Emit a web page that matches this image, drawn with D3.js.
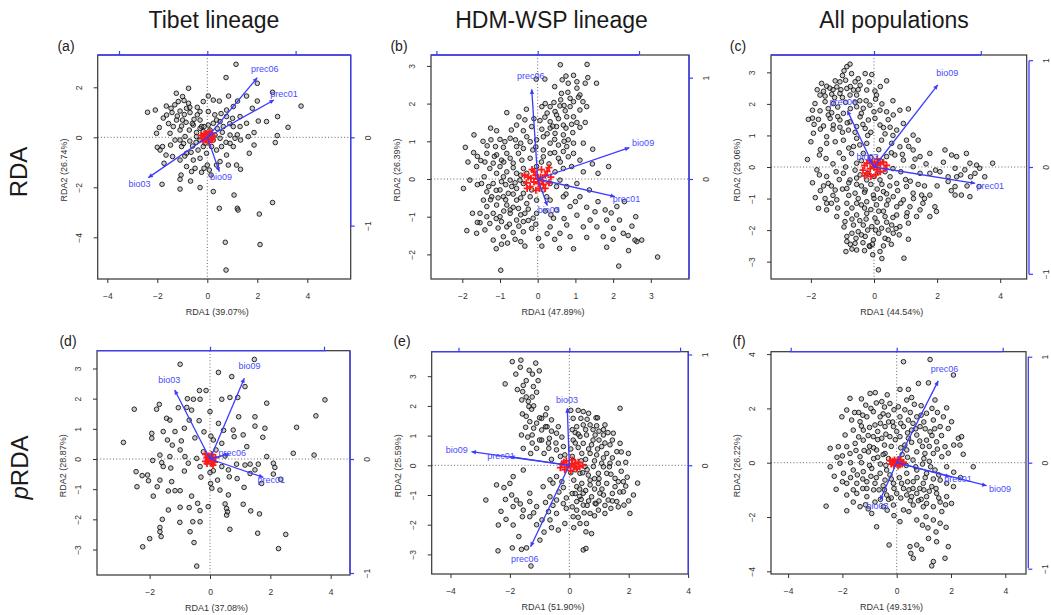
<!DOCTYPE html>
<html><head><meta charset="utf-8">
<script src="https://cdn.jsdelivr.net/npm/d3@7"></script>
<style>body{margin:0;background:#fff}svg{display:block}text{font-family:"Liberation Sans",Arial,Helvetica,sans-serif}</style>
</head><body><svg id="chart" width="1051" height="615"></svg>
<script>
// ---------- DATA ----------
const columnTitles = ["Tibet lineage", "HDM-WSP lineage", "All populations"];
const panelLetters = ["(a)", "(b)", "(c)", "(d)", "(e)", "(f)"];
const xTitles = ["RDA1 (39.07%)", "RDA1 (47.89%)", "RDA1 (44.54%)", "RDA1 (37.08%)", "RDA1 (51.90%)", "RDA1 (49.31%)"];
const yTitles = ["RDA2 (26.74%)", "RDA2 (26.39%)", "RDA2 (29.06%)", "RDA2 (28.87%)", "RDA2 (25.59%)", "RDA2 (26.22%)"];

const xTicksA = [-4,-2,0,2,4], yTicksA = [-4,-2,0,2], topTicksA = [-1,0,1], rightTicksA = [-1,0];
const xTicksB = [-2,-1,0,1,2,3], yTicksB = [-2,-1,0,1,2,3], topTicksB = [-1,0,1], rightTicksB = [0,1];
const xTicksC = [-2,0,2,4], yTicksC = [-3,-2,-1,0,1,2,3], topTicksC = [0,1], rightTicksC = [-1,0,1];
const xTicksD = [-2,0,2,4], yTicksD = [-3,-2,-1,0,1,2,3], topTicksD = [0,1], rightTicksD = [-1,0];
const xTicksE = [-4,-2,0,2,4], yTicksE = [-3,-2,-1,0,1,2,3], topTicksE = [-1,0,1], rightTicksE = [0,1];
const xTicksF = [-4,-2,0,2,4], yTicksF = [-4,-2,0,2,4], topTicksF = [-1,0,1], rightTicksF = [-1,0,1];

// environmental arrows (biplot scores)
const envA = [{name:"prec06",x:0.566,y:0.675},{name:"prec01",x:0.755,y:0.423},{name:"bio03",x:-0.668,y:-0.457},{name:"bio09",x:0.136,y:-0.389}];
const envB = [{name:"prec06",x:-0.059,y:0.885},{name:"bio09",x:0.905,y:0.309},{name:"prec01",x:0.763,y:-0.174},{name:"bio03",x:0.095,y:-0.263}];
const envC = [{name:"bio09",x:0.597,y:0.769},{name:"prec06",x:-0.25,y:0.528},{name:"bio03",x:-0.053,y:0.081},{name:"prec01",x:0.947,y:-0.153}];
const envD = [{name:"bio03",x:-0.31,y:0.605},{name:"bio09",x:0.301,y:0.708},{name:"prec06",x:0.17,y:0.044},{name:"prec01",x:0.468,y:-0.161}];
const envE = [{name:"bio03",x:-0.018,y:0.515},{name:"bio09",x:-0.883,y:0.123},{name:"prec01",x:-0.536,y:0.078},{name:"prec06",x:-0.349,y:-0.735}];
const envF = [{name:"prec06",x:0.392,y:0.772},{name:"prec01",x:0.502,y:-0.132},{name:"bio09",x:0.848,y:-0.217},{name:"bio03",x:-0.157,y:-0.352}];

// species scores (red, near origin)
const spA = [[0,0],[0.15,0.1],[-0.1,0.05],[0.2,-0.1],[-0.2,-0.05],[0.05,-0.2],[0.1,0.2],[-0.05,0.15],[0.25,0.05],[-0.15,-0.15],[0.05,0.05],[0.12,-0.05],[-0.08,-0.08],[0.08,-0.12],[-0.12,0.12],[0.18,0.15],[-0.25,0.08],[0.02,0.1]];
const spB = [[0,0],[0.2,0.1],[-0.25,0.05],[0.3,-0.1],[-0.3,-0.1],[0.05,-0.25],[0.1,0.25],[-0.1,0.2],[0.35,0.05],[-0.2,-0.2],[0.15,-0.15],[-0.05,0.1],[0.25,0.2],[-0.35,0.1],[0.2,-0.25],[-0.15,0.25],[0.08,0.05],[-0.1,-0.08],[0.12,-0.05],[-0.18,0.02],[0.02,-0.12],[-0.05,-0.3],[0.3,0.3],[-0.28,-0.25]];
const spC = [[0,0],[0.2,0.1],[-0.3,0.05],[0.35,-0.05],[-0.35,-0.1],[0.05,-0.25],[0.1,0.25],[-0.15,0.2],[0.4,0.05],[-0.2,-0.2],[0.2,-0.15],[-0.05,0.1],[0.3,0.15],[-0.1,-0.3],[0.08,-0.08],[-0.12,-0.05],[0.12,0.05],[-0.22,0.12],[0.02,0.15],[-0.3,-0.28]];
const spD = [[0,0],[0.1,0.05],[-0.1,0.05],[0.15,-0.1],[-0.15,-0.08],[0.05,-0.15],[0.05,0.15],[-0.05,0.1],[0.18,0.05],[-0.1,-0.15],[0.05,-0.05],[-0.05,-0.05],[0.1,-0.2],[-0.15,0.15]];
const spE = [[0,0],[0.2,0.05],[-0.25,0.05],[0.35,-0.05],[-0.3,-0.08],[0.05,-0.18],[0.1,0.18],[-0.1,0.15],[0.45,0.0],[-0.15,-0.15],[0.25,-0.12],[0.08,0.05],[-0.08,-0.05],[0.15,-0.05],[-0.18,0.1],[0.3,0.1]];
const spF = [[0,0],[0.1,0.05],[-0.15,0.05],[0.2,-0.05],[-0.2,-0.05],[0.05,-0.12],[0.05,0.12],[-0.08,0.1],[0.25,0.02],[-0.1,-0.1],[0.12,-0.08],[-0.05,0.02],[0.15,0.1],[-0.25,0.08]];

// site scores
const ptsA = [[1.15,2.92],[0.75,2.39],[2.0,2.16],[-0.75,1.96],[-1.24,1.76],[-0.99,1.63],[-0.93,1.47],[-0.75,1.36],[0.04,1.65],[0.24,1.49],[0.48,1.45],[0.85,1.65],[1.21,1.45],[1.57,1.65],[2.0,1.45],[2.61,1.8],[3.75,1.25],[-2.39,1.0],[-2.08,1.09],[-1.64,1.25],[-1.45,1.16],[-1.76,0.77],[-1.41,0.99],[-1.09,1.05],[-0.92,0.91],[-0.69,0.99],[-0.53,0.72],[-0.99,0.69],[-1.23,0.69],[-1.36,0.43],[-1.03,0.45],[-1.92,0.39],[-2.03,0.16],[-1.49,0.16],[-1.09,0.29],[-0.72,0.29],[-0.29,0.69],[-0.23,0.43],[-0.16,0.23],[-0.43,0.19],[0.04,1.03],[0.24,0.56],[0.51,0.63],[0.77,0.83],[1.01,0.76],[0.64,0.43],[1.04,0.43],[1.31,0.43],[1.57,0.56],[1.8,1.16],[2.04,0.65],[2.37,0.63],[2.81,0.83],[3.23,0.4],[2.8,0.07],[2.72,-0.21],[1.87,0.19],[1.87,-0.31],[1.68,-0.64],[1.33,-0.11],[1.11,-0.04],[0.91,0.09],[0.51,-0.04],[0.57,-0.37],[1.04,-0.37],[0.77,-0.71],[1.17,-1.11],[1.33,-1.28],[0.84,-1.11],[0.51,-0.97],[-2.0,-0.4],[-1.89,-0.51],[-1.73,-1.04],[-1.39,-0.77],[-1.47,-0.31],[-1.09,-0.11],[-1.03,-0.37],[-0.83,-0.64],[-0.59,-0.35],[-0.37,-0.51],[-0.29,-0.84],[-0.56,-0.91],[-0.83,-1.17],[-1.05,-1.51],[-1.09,-1.68],[-0.67,-1.75],[-0.49,-1.24],[-0.23,-1.4],[0,-1.11],[0.08,-1.31],[0.15,-1.51],[-0.29,-2.01],[-1.09,-2.07],[-1.81,-1.88],[0.24,-2.17],[1.07,-2.31],[0.48,-2.84],[1.2,-2.84],[1.23,-2.91],[2.61,-2.61],[2.08,-3.07],[0.72,-4.2],[2.11,-4.29],[0.75,-5.31],[-0.29,0.36],[-0.13,0.43],[0.11,0.29],[0.31,0.09],[0.24,-0.11],[-0.09,-0.24],[-0.29,-0.11],[-0.43,0.03],[0.17,-0.37],[0.37,-0.51],[-0.03,-0.64],[-0.16,-0.37],[-1.63,0.89],[-0.83,1.16],[-0.56,0.49],[-0.89,0.03],[-1.29,-0.11],[-1.65,-0.71],[-1.09,-0.91],[1.04,1.23],[0.77,1.09],[1.31,0.83],[1.64,0.03],[0.91,-0.24],[0.04,0.49],[0.37,0.69],[-0.29,1.03],[-0.16,1.43],[-1.16,1.43],[-1.79,-0.37],[-0.63,-1.37],[-0.13,-1.24],[0.37,-1.11],[-0.6,0.55],[-0.85,0.6],[-1.2,0.85],[-0.4,0.9],[-0.7,1.2],[-1.55,0.55],[-0.95,-0.25],[-0.7,-0.15],[-0.45,-0.2],[-0.65,-0.6],[-0.9,-0.75],[0.3,0.9],[0.55,0.95],[0.9,0.55],[0.4,0.35],[0.6,0.2],[-1.3,1.3],[-0.4,1.2],[1.2,0.1],[0.75,-0.2]];

const ptsB = [[0.6,3.03],[1.31,3.04],[-0.04,2.65],[0.19,2.65],[0.75,2.73],[0.65,2.63],[0.81,2.54],[1.04,2.58],[1.26,2.54],[1.33,2.69],[1.56,2.54],[1.04,2.41],[1.12,2.23],[1.08,2.17],[0.86,2.14],[0.63,2.27],[0.61,2.1],[0.43,2.03],[0.59,1.94],[0.86,1.92],[1.12,1.83],[0.73,1.81],[0.46,1.79],[0.19,1.64],[0.06,1.55],[0.33,1.52],[0.5,1.7],[0.77,1.65],[1.04,1.5],[1.26,1.5],[1.12,1.37],[0.93,1.23],[0.81,1.04],[0.68,1.17],[0.46,1.21],[0.33,1.35],[0.11,1.32],[0.15,1.12],[0.33,0.95],[0.55,0.9],[0.77,0.86],[0.81,0.59],[0.55,0.55],[0.33,0.68],[0.15,0.77],[1.21,0.95],[1.46,0.79],[1.88,0.33],[1.12,0.5],[0.9,0.33],[0.68,0.28],[0.46,0.19],[-0.82,1.76],[-1.09,1.28],[-1.69,1.17],[-1.92,0.84],[-1.34,0.88],[-1.12,0.86],[-0.91,0.84],[-0.73,1.08],[-0.59,1.04],[-0.38,1.28],[-0.29,1.12],[-0.2,0.99],[-0.51,0.68],[-0.82,0.68],[-1.09,0.64],[-1.35,0.68],[-1.51,0.49],[-1.62,0.33],[-1.8,-0.03],[-1.97,-0.25],[-1.42,0.06],[-1.27,0.28],[-1.0,0.33],[-0.82,0.19],[-0.65,0.42],[-0.42,0.5],[-0.2,0.55],[-0.38,0.28],[-0.56,0.15],[-0.73,-0.03],[-0.96,-0.07],[-1.18,-0.12],[-1.35,-0.34],[-1.44,-0.56],[-1.22,-0.47],[-1.0,-0.29],[-0.78,-0.38],[-0.56,-0.25],[-0.38,-0.38],[-0.2,-0.47],[-0.56,-0.56],[-0.82,-0.69],[-1.09,-0.69],[-1.35,-0.73],[-1.53,-0.91],[-1.73,-0.91],[-1.53,-1.16],[-1.62,-1.44],[-1.88,-1.37],[-1.27,-1.18],[-1.0,-1.0],[-0.73,-0.91],[-0.56,-1.09],[-0.34,-0.91],[-0.12,-1.04],[-0.16,-1.31],[-0.38,-1.13],[-0.82,-1.27],[-1.18,-1.62],[-0.91,-1.53],[-0.65,-1.42],[-0.45,-1.66],[-0.34,-1.78],[-0.96,-1.73],[-0.98,-2.42],[0.11,-1.78],[0.02,-1.58],[0.33,-1.27],[0.58,-1.84],[0.33,-0.56],[0.5,-0.82],[0.68,-0.47],[0.86,-0.73],[1.04,-0.96],[0.77,-1.22],[1.12,-0.47],[1.37,-0.29],[1.52,-0.87],[1.83,-1.09],[1.79,-0.82],[2.1,-0.73],[2.17,-1.09],[2.27,-1.44],[2.01,-1.31],[1.74,-1.53],[1.83,-1.81],[2.41,-1.9],[2.63,-1.66],[2.76,-1.62],[2.15,-2.31],[3.18,-2.07],[2.58,-1.62],[-0.03,1.04],[-0.13,0.77],[0.15,0.59],[-0.03,0.33],[-0.29,0.15],[0.33,-0.12],[0.5,-0.2],[0.15,-0.29],[-0.16,-0.29],[-0.38,-0.12],[0.24,-0.47],[-0.03,-0.56],[-1.49,-0.12],[-1.09,0.15],[-0.91,0.06],[-0.69,-0.2],[-0.47,-0.03],[-0.91,-0.47],[-0.73,-0.82],[-0.51,-0.78],[-0.29,-0.65],[-1.18,-0.91],[-0.96,-1.13],[-0.38,-1.4],[-0.03,-0.91],[0.42,-1.04],[0.59,-1.44],[0.86,-1.53],[1.21,-1.27],[1.39,-1.09],[1.57,-1.27],[-0.56,1.43],[-0.34,1.57],[-0.16,1.39],[-0.56,0.86],[-0.38,0.81],[-0.87,0.99],[-1.24,1.04],[-0.96,0.5],[-1.18,0.42],[-0.73,0.55],[0.5,1.39],[0.68,1.43],[0.33,1.92],[0.11,1.92],[1.3,1.92],[0.95,1.65],[0.68,0.73],[0.95,0.68],[1.21,0.19],[0.59,-0.03],[0.77,-0.2],[1.04,-0.12],[-1.6,-0.15],[-1.3,-0.2],[-1.1,-0.3],[-0.85,-0.15],[-0.6,-0.1],[-0.45,0.1],[-0.65,0.3],[-0.9,0.45],[-1.15,0.6],[-1.4,0.45],[-1.6,0.6],[-1.25,-0.55],[-1.05,-0.5],[-0.85,-0.55],[-0.65,-0.4],[-0.45,-0.5],[-0.25,-0.8],[-0.45,-0.95],[-0.65,-0.75],[-0.9,-0.85],[-1.1,-1.05],[-1.35,-1.0],[-1.6,-1.15],[-1.4,-1.35],[-1.05,-1.3],[-0.75,-1.2],[-0.5,-1.25],[-0.25,-1.1],[-0.05,-1.2],[0.2,-0.85],[0.35,-0.95],[0.25,-1.45],[0.45,-1.6],[-0.6,-1.6],[-0.8,-1.7],[-1.1,-1.85],[0.7,-1.05],[1.0,-0.6],[1.3,-0.75],[1.6,-0.6],[1.95,-0.9],[2.4,-1.5],[2.5,-1.25],[2.0,-1.6],[0.3,0.4],[0.45,0.7],[0.6,0.45],[0.95,0.95],[0.7,1.0],[0.45,1.05],[0.25,1.2],[0.4,1.4],[0.75,1.35],[0.9,1.45],[0.55,1.6],[0.25,1.75],[0.7,1.95],[0.95,2.05],[0.8,2.3],[1.2,2.05],[0.45,2.45],[0.95,2.75],[0.2,2.0],[-0.1,1.6],[-0.3,1.85],[-0.5,1.65],[-0.7,1.3],[-1.0,1.05],[-1.45,1.0],[-1.7,0.7],[-1.85,0.45],[-1.25,1.35],[-0.45,0.95],[-0.05,0.85],[0.1,0.45],[1.45,0.4],[1.6,0.15],[2.3,-0.6],[2.6,-1.0],[1.3,-1.55],[0.95,-1.85],[0.75,-0.4]];

const ptsC = [[-0.76,3.26],[-0.86,3.18],[-0.71,2.96],[-0.95,3.05],[-0.28,2.96],[-0.07,2.93],[0.4,2.73],[-1.66,2.65],[-1.5,2.56],[-1.23,2.73],[-1.08,2.7],[-1.18,2.54],[-0.86,2.49],[-0.65,2.44],[-0.44,2.59],[-0.23,2.44],[0.03,2.41],[0.08,2.28],[-0.55,2.28],[-0.76,2.28],[-1.08,2.33],[-1.34,2.31],[-1.71,2.28],[-1.87,2.01],[-1.55,2.07],[-1.29,2.01],[-1.71,1.78],[-1.34,1.72],[-0.97,1.7],[-0.55,1.91],[-0.34,1.86],[-0.13,1.96],[0.19,1.8],[0.4,1.75],[0.82,1.8],[1.09,1.84],[0.61,1.65],[-2.08,1.51],[-1.76,1.51],[-1.39,1.54],[-1.08,1.49],[-0.76,1.43],[-0.44,1.59],[-0.18,1.49],[0.03,1.54],[-1.29,1.33],[-1.08,1.26],[-0.81,1.17],[-0.55,1.28],[-0.28,1.22],[0.19,1.33],[0.51,1.26],[0.72,1.17],[0.93,1.38],[1.24,1.01],[1.4,0.85],[-1.92,1.07],[-1.5,0.96],[-1.23,0.8],[-1.5,0.75],[-0.97,0.85],[-0.55,0.91],[-0.23,0.75],[0.24,0.85],[0.56,0.75],[0.82,0.64],[1.03,0.85],[1.24,0.54],[1.46,0.33],[-1.73,0.38],[-1.52,0.27],[-2.11,0.24],[-0.97,0.27],[-0.71,0.43],[-0.55,0.12],[-0.34,0.43],[0.4,0.33],[0.66,0.38],[0.93,0.22],[1.77,0.43],[2.25,0.54],[2.46,0.38],[2.62,0.33],[2.93,0.43],[3.04,0.12],[3.25,0.06],[3.35,-0.04],[3.51,-0.31],[3.76,0.12],[2.57,-0.04],[2.88,-0.09],[2.09,-0.15],[2.35,-0.31],[2.62,-0.31],[3.06,-0.31],[3.33,-0.62],[2.57,-0.62],[2.77,-0.89],[3.04,-0.94],[2.57,-0.89],[2.35,-0.46],[1.77,-0.2],[1.46,-0.2],[1.24,0.01],[-1.81,-0.09],[-1.73,-0.25],[-0.97,-0.2],[-0.76,-0.41],[-0.44,-0.25],[-0.23,-0.41],[0.19,-0.41],[0.51,-0.31],[0.72,-0.52],[1.03,-0.62],[1.24,-0.83],[1.51,-0.89],[1.77,-0.89],[-1.45,-0.52],[-1.23,-0.73],[-0.86,-0.68],[-0.6,-0.83],[-0.28,-0.73],[-0.02,-0.89],[0.3,-0.78],[0.61,-0.94],[0.93,-1.04],[-1.86,-0.97],[-1.5,-1.15],[-1.18,-1.04],[-0.86,-1.15],[-0.55,-1.15],[-0.23,-1.1],[0.08,-1.2],[0.4,-1.2],[0.72,-1.26],[1.14,-1.26],[1.46,-1.36],[1.93,-1.26],[-1.76,-1.31],[-1.5,-1.36],[-1.18,-1.57],[-0.86,-1.47],[-0.55,-1.52],[-0.23,-1.47],[0.03,-1.62],[0.35,-1.57],[0.72,-1.52],[1.03,-1.57],[1.35,-1.57],[1.77,-1.57],[1.98,-1.41],[-0.92,-1.73],[-0.65,-1.84],[-0.34,-1.84],[-0.07,-1.89],[0.24,-1.94],[0.56,-1.84],[0.82,-1.89],[1.09,-1.78],[-0.86,-2.2],[-0.57,-2.26],[-0.28,-2.2],[-0.02,-2.31],[0.35,-2.26],[0.61,-2.1],[1.09,-2.29],[-0.86,-2.36],[-0.6,-2.42],[-0.89,-2.68],[-0.55,-2.63],[-0.04,-2.78],[0.19,-2.68],[0.95,-2.89],[0.14,-3.26],[-0.13,-2.52],[-0.4,-0.6],[-0.1,-0.55],[0.1,-0.7],[-0.5,-1.0],[-0.3,-1.3],[0.2,-1.0],[0.5,-0.6],[-0.7,-1.3],[-0.1,-1.35],[0.3,-1.4],[-0.45,-1.7],[0.1,-1.75],[-0.2,-2.0],[0.15,-2.1],[-0.5,-2.05],[0.45,-2.0],[-0.15,-2.5],[0.3,-2.5],[-0.35,-2.4],[0.6,-1.6],[0.85,-1.15],[-0.8,-0.5],[-1.1,-0.4],[-1.3,-0.9],[-0.2,-0.2],[0.35,-0.15],[-0.6,-0.1],[-0.9,0.0],[0.0,-0.3],[-0.4,0.2],[0.15,0.55],[-0.1,1.1],[0.35,1.05],[-0.65,0.65],[-0.85,1.4],[-1.15,1.9],[-0.45,2.1],[-0.9,2.05],[-1.45,1.85],[-1.6,2.4],[-1.0,2.9],[-0.6,2.7],[-0.4,1.7],[0.25,2.0],[-1.7,1.2],[-1.95,1.55],[-1.3,2.45],[0.6,1.0],[0.9,0.4],[1.15,-0.45],[1.55,-1.15],[1.6,-0.6],[2.0,-0.6],[-1.6,-0.6],[-1.35,-1.15],[-0.7,-2.6],[0.55,-2.45],[0.8,-2.15],[-0.3,-0.8],[0.0,-1.0],[0.25,-0.55],[-0.55,-0.35],[-0.8,-0.9],[-1.0,-0.7],[-1.15,-1.3],[-0.95,-1.9],[-0.7,-1.65],[-0.4,-1.2],[0.15,-1.4],[0.45,-1.05],[0.75,-0.75],[1.0,-0.4],[0.85,-0.15],[0.6,-0.05],[0.4,-0.85],[-0.25,-1.65],[0.05,-2.0],[-0.4,-2.15],[0.4,-1.75],[0.7,-1.95],[-0.7,-2.1],[-0.05,-2.45],[0.45,-2.3],[-0.3,-2.65],[-0.75,-2.45],[0.25,-2.9],[-1.2,-0.15],[-1.5,-0.3],[-1.3,0.1],[-1.1,0.45],[-0.8,0.6],[-0.45,0.7],[-0.2,1.0],[-0.6,1.1],[-1.0,1.1],[-1.3,1.2],[-1.6,1.3],[-1.9,1.35],[-1.45,1.65],[-1.15,1.6],[-0.75,1.85],[-0.6,2.05],[-1.0,2.2],[-1.25,2.2],[-1.55,2.25],[-1.8,2.45],[-1.4,2.5],[-1.05,2.45],[-0.75,2.55],[-0.5,2.45],[-0.9,2.75],[-0.5,2.8],[-0.15,2.7],[0.2,2.55],[-0.25,2.1],[0.0,1.75],[0.45,1.5],[0.3,1.25],[0.55,0.45],[1.1,0.65],[1.3,0.25],[1.65,0.1],[1.95,-0.1],[2.2,0.15],[2.75,-0.25],[2.95,-0.6],[3.2,-0.2],[2.45,-0.75],[1.4,-0.55],[1.25,-1.0],[1.6,-1.0],[1.05,-1.45],[-1.95,-0.5],[-1.7,-0.75],[-1.35,-0.6],[-1.55,-1.0],[-0.55,-0.55],[0.15,-0.15],[-0.1,0.3],[0.2,0.2],[-0.35,1.35],[0.05,2.15],[0.6,2.1],[-1.95,1.8],[-2.0,0.8],[-1.7,0.55]];

const ptsD = [[-0.99,3.14],[1.47,3.3],[0.28,2.87],[0.72,2.73],[1.16,2.4],[-0.35,2.27],[-0.13,2.27],[-0.55,1.98],[-0.33,1.98],[-0.77,1.71],[-0.61,1.62],[-1.68,1.81],[-1.77,1.65],[-2.51,1.65],[0.39,1.98],[0.66,2.04],[0.92,2.04],[1.88,1.85],[3.81,1.96],[3.51,1.43],[-1.44,1.35],[-1.33,1.29],[-0.69,1.29],[-0.36,1.27],[0,1.57],[0.28,1.18],[0.77,0.96],[1.49,1.4],[1.82,1.02],[2.87,1.05],[1.49,1.09],[-0.85,1.02],[-1.16,0.91],[-1.55,0.91],[-1.93,0.85],[-1.93,0.69],[-1.41,0.63],[-1.25,0.46],[-0.99,0.3],[-2.87,0.55],[0.03,0.76],[0.11,0.63],[0.39,0.52],[0.8,0.74],[1.1,0.8],[1.75,0.72],[1.22,0.41],[2.76,0.19],[3.45,0.13],[1.88,0.08],[-1.66,0.13],[-1.33,0.08],[-0.83,0.08],[-0.44,0.02],[-0.22,0.24],[-1.6,-0.12],[-1.55,-0.25],[-0.72,-0.14],[-0.33,-0.25],[0.11,-0.39],[0.39,-0.25],[0.88,-0.17],[1.16,-0.2],[1.33,-0.17],[1.6,-0.17],[1.49,-0.36],[2.1,-0.14],[2.15,-0.28],[1.33,-0.48],[0.61,-0.36],[0.64,-0.59],[2.1,-0.5],[2.34,-0.67],[1.71,-0.81],[1.13,-0.94],[-2.45,-0.42],[-2.07,-0.53],[-2.42,-0.92],[-2.04,-0.72],[-1.66,-0.7],[-1.27,-0.75],[-1.75,-0.92],[-1.38,-1.06],[-1.16,-1.05],[-0.99,-1.05],[-1.88,-1.23],[-0.61,-1.23],[0.02,-0.81],[0.06,-0.97],[0,-0.45],[0.33,-1.03],[0.61,-1.19],[-0.41,-1.47],[-0.06,-1.58],[0.5,-1.49],[0.55,-1.64],[0.58,-1.75],[0.55,-1.86],[-0.33,-1.71],[-0.99,-1.6],[-1.38,-1.69],[-0.69,-1.61],[1.35,-1.72],[1.64,-1.82],[-0.57,-2.08],[-0.33,-2.08],[-1.58,-2.0],[-1.66,-2.27],[-1.66,-2.41],[-1.62,-2.57],[-2.0,-2.64],[-2.23,-2.91],[-0.66,-2.41],[-0.53,-2.77],[0.66,-2.33],[1.58,-2.46],[2.51,-2.5],[2.27,-2.97],[-0.44,-3.55],[-0.5,0.7],[-0.2,0.9],[0.45,0.95],[0.95,1.4],[-1.05,1.7],[-0.75,2.0],[-0.95,0.6],[0.25,-0.7],[0.9,-0.65],[1.1,-1.5],[-0.85,-0.4],[-1.3,-0.3],[-1.9,-0.05],[0.2,0.3],[0.5,0.1],[-0.3,-0.6],[-2.25,-0.55],[-1.0,-2.1]];

const ptsE = [[-1.92,3.49],[-1.63,3.54],[-1.13,3.44],[-1.8,3.07],[-1.24,3.07],[-1.01,3.18],[-2.16,2.74],[-1.55,2.69],[-1.21,2.65],[-1.57,2.48],[-1.1,2.46],[-1.38,2.15],[-1.36,1.98],[-1.58,1.73],[-1.27,1.89],[-0.76,1.92],[-0.93,1.58],[-1.1,1.42],[-1.33,1.47],[-1.47,1.28],[-1.61,1.02],[-1.25,1.02],[-0.93,1.19],[-0.6,1.53],[-0.37,1.3],[-0.67,0.91],[-0.43,1.08],[-0.93,0.85],[-1.1,0.57],[-1.55,0.57],[-0.69,0.57],[-0.43,0.52],[-0.2,0.63],[0.47,1.81],[0.13,1.58],[0.39,1.58],[0.25,1.3],[0.47,1.36],[0.7,1.36],[0.92,1.33],[1.2,1.36],[1.71,1.92],[1.48,1.08],[1.15,1.02],[0.87,1.02],[0.58,1.02],[0.36,0.97],[0.13,0.85],[0.47,0.74],[0.75,0.69],[1.09,0.63],[1.37,0.69],[1.71,0.74],[1.99,0.4],[1.6,0.46],[1.26,0.4],[0.92,0.35],[0.7,0.4],[0.42,0.4],[1.65,0.07],[1.37,0.07],[1.09,0.07],[0.81,-0.04],[0.53,-0.04],[0.36,-0.27],[0.64,-0.33],[0.98,-0.27],[1.26,-0.27],[1.54,-0.44],[1.82,-0.55],[2.16,-1.0],[1.82,-0.89],[1.54,-0.72],[1.26,-0.61],[0.98,-0.61],[0.7,-0.66],[0.42,-0.61],[0.25,-0.72],[0.47,-0.94],[0.75,-1.06],[1.03,-0.94],[1.31,-1.17],[1.6,-1.22],[1.84,-1.34],[2.04,-1.62],[1.2,-1.62],[0.98,-1.51],[0.7,-1.62],[0.47,-1.34],[0.25,-1.22],[0.36,-1.96],[0.58,-1.96],[0.56,-2.24],[0.47,-2.85],[0.56,-2.8],[-0.43,-1.17],[-0.2,-1.29],[-0.65,-1.06],[-0.43,-1.62],[-0.65,-1.84],[-0.37,-2.18],[-0.99,-2.52],[-2.45,-0.66],[-2.0,-0.61],[-1.94,-1.0],[-1.78,-1.17],[-1.33,-1.22],[-1.1,-1.39],[-1.55,-1.51],[-1.89,-1.39],[-2.13,-1.82],[-2.39,-2.01],[-1.89,-2.01],[-1.58,-1.73],[-1.33,-1.73],[-0.92,-1.84],[-0.7,-1.56],[-2.81,-1.17],[-1.92,-2.78],[-1.61,-2.83],[-1.44,-2.78],[-2.4,-2.88],[-1.29,-3.39],[-1.33,-0.94],[-0.88,-0.72],[-0.65,-0.49],[-0.43,-0.38],[-1.89,-0.38],[-1.55,-0.16],[-0.15,-1.96],[0.13,-1.73],[0.25,-1.51],[0.87,-1.28],[0.1,0.3],[0.3,0.6],[0.55,0.2],[0.85,0.15],[1.0,0.85],[0.2,1.1],[0.6,1.55],[0.9,1.6],[0.15,-0.5],[0.6,-0.15],[0.85,-0.45],[1.1,-0.8],[1.45,-0.95],[0.35,-1.05],[0.6,-1.35],[1.0,-1.2],[0.1,-0.95],[-0.2,-0.75],[-0.3,0.3],[-0.6,0.2],[-0.85,0.4],[1.35,-0.05],[1.15,1.2],[0.05,1.85],[-0.25,0.95],[-0.8,1.3],[-1.0,0.85],[-1.3,0.4],[1.75,-0.2],[1.95,-0.4],[0.2,0.75],[-0.1,-1.45],[-0.55,-1.35],[0.15,0.15],[0.4,0.15],[0.65,0.55],[0.95,0.55],[1.2,0.75],[1.45,0.85],[1.75,0.45],[1.45,0.25],[1.15,0.25],[0.8,0.85],[0.55,1.2],[0.3,1.05],[0.1,1.2],[0.05,0.55],[0.8,1.2],[1.0,1.15],[1.3,1.1],[0.65,1.75],[0.3,1.85],[0.95,1.6],[0.2,-0.15],[0.45,-0.25],[0.7,-0.5],[1.0,-0.45],[1.15,-0.05],[1.4,-0.3],[1.65,-0.55],[1.9,-0.7],[1.7,-0.9],[1.45,-1.2],[1.2,-1.35],[0.9,-1.3],[0.65,-1.2],[0.4,-1.15],[0.2,-0.95],[0.35,-0.8],[0.55,-0.85],[0.85,-0.8],[1.15,-1.0],[1.4,-1.45],[1.65,-1.4],[0.85,-1.7],[0.5,-1.6],[0.3,-1.75],[0.1,-1.4],[-0.1,-1.1],[-0.35,-0.9],[-0.55,-0.6],[-0.25,-0.55],[0.05,-0.25],[-0.15,0.35],[-0.45,0.75],[-0.7,0.75],[-1.25,0.75],[-1.4,0.95],[-1.2,1.25],[-0.75,1.3],[-0.6,1.15],[-1.0,1.6],[-1.45,1.65],[-1.2,2.0],[-1.45,2.3],[-1.25,2.3],[-1.6,2.2],[-1.75,2.55],[-1.45,2.85],[-1.05,2.85],[-1.65,3.3],[-1.35,3.2],[-0.8,1.7],[-2.2,-0.75],[-2.15,-1.15],[-1.65,-1.3],[-1.2,-1.6],[-0.8,-1.25],[-0.6,-2.1],[-0.85,-2.25],[-2.3,-1.55],[-1.7,-2.4],[-1.1,-2.0],[2.3,-0.6],[1.9,0.1],[2.0,-1.2],[0.75,-2.3],[0.15,-2.1]];

const ptsF = [[0.25,3.72],[1.23,3.8],[2.09,3.23],[0.8,2.92],[0.12,2.7],[0.43,2.7],[1.17,2.94],[1.41,2.31],[1.84,2.02],[-0.79,2.58],[-0.98,2.55],[-0.55,2.25],[-0.25,2.18],[0.06,2.06],[0.37,2.31],[-1.72,2.37],[-1.14,2.12],[-0.86,1.88],[-1.84,1.94],[-2.02,1.69],[-1.66,1.57],[-1.35,1.51],[-1.1,1.69],[-0.61,1.69],[-0.31,1.75],[0.12,1.69],[0.43,1.57],[0.74,1.69],[1.1,1.82],[1.35,1.57],[1.72,1.69],[1.9,1.26],[2.02,1.51],[1.6,1.33],[1.23,1.14],[0.86,1.33],[0.55,1.2],[0.25,1.33],[-0.12,1.33],[-0.43,1.33],[-0.8,1.39],[-1.23,1.2],[-1.6,1.2],[-1.9,1.02],[-2.15,0.59],[-2.45,0.53],[-1.84,0.59],[-1.53,0.71],[-1.23,0.83],[-0.86,0.96],[-0.55,0.9],[-0.25,0.96],[0.12,0.96],[0.43,0.9],[0.74,1.02],[1.1,0.83],[1.47,0.77],[1.78,0.59],[2.27,0.9],[2.39,0.96],[2.33,0.65],[2.45,0.31],[2.82,-0.15],[-2.45,-0.15],[-2.09,-0.02],[-1.72,0.34],[-1.35,0.22],[-1.04,0.4],[-0.74,0.47],[-0.43,0.34],[0.37,0.47],[0.74,0.4],[1.04,0.34],[1.35,0.34],[1.66,0.22],[1.84,-0.15],[-1.96,-0.39],[-1.6,-0.27],[-1.23,-0.33],[-0.92,-0.21],[-0.61,-0.39],[-0.37,-0.27],[0.37,-0.39],[0.74,-0.27],[1.1,-0.39],[1.41,-0.27],[1.6,-0.64],[1.84,-0.76],[2.09,-0.88],[-1.84,-0.76],[-1.47,-0.76],[-1.1,-0.7],[-0.8,-0.76],[-0.43,-0.64],[-0.12,-0.76],[0.18,-0.76],[0.61,-0.7],[0.98,-0.76],[1.29,-0.88],[-2.23,-0.98],[-2.6,-1.6],[-1.84,-1.19],[-1.47,-1.13],[-1.1,-1.25],[-0.37,-1.19],[0,-1.13],[0.37,-1.19],[0.74,-1.13],[1.1,-1.25],[1.47,-1.13],[1.84,-1.25],[2.02,-1.5],[-1.84,-1.77],[-1.35,-1.62],[-0.92,-1.87],[-0.49,-1.62],[-0.12,-1.56],[0.25,-1.74],[0.12,-2.17],[0.61,-1.56],[0.98,-1.62],[1.35,-1.62],[1.66,-1.8],[-0.74,-2.36],[1.08,-1.99],[1.35,-2.11],[1.6,-2.23],[1.82,-2.38],[1.17,-2.79],[1.47,-2.91],[1.9,-3.09],[0.49,-3.09],[0.74,-3.03],[0.92,-3.19],[-0.28,-3.03],[0.52,-3.34],[0.61,-3.52],[1.35,-3.64],[1.29,-3.8],[1.78,-3.52],[0.74,-2.11],[-0.2,0.6],[0.3,0.65],[-0.7,0.2],[-1.0,-0.1],[-0.6,-0.05],[0.6,0.1],[0.95,-0.05],[1.2,0.05],[-1.45,-0.45],[-0.95,-0.5],[-0.25,-0.45],[0.45,-1.0],[0.85,-0.95],[-0.65,-1.0],[-1.25,-0.95],[-0.8,-1.45],[-0.3,-1.35],[0.5,-1.4],[1.2,-1.05],[-1.0,0.6],[-1.4,0.95],[-0.7,1.15],[0.0,1.15],[0.6,1.45],[1.0,1.5],[0.9,2.1],[0.3,1.95],[-0.3,1.5],[-0.95,2.0],[-1.4,1.85],[1.3,1.0],[0.95,0.6],[-1.7,0.0],[-2.0,0.25],[-0.45,2.05],[0.55,2.4],[1.55,-0.45],[-0.1,-1.95],[0.9,-1.35],[1.6,-1.45],[-0.5,0.3],[-0.3,0.15],[0.2,0.3],[0.4,0.2],[0.15,0.55],[-0.45,0.65],[-0.85,0.55],[-1.2,0.45],[-1.5,0.45],[-1.3,0.0],[-0.85,0.15],[-0.4,-0.1],[0.35,-0.1],[0.7,-0.15],[1.0,0.15],[1.25,-0.15],[0.55,0.75],[0.85,0.8],[1.2,0.6],[1.5,0.5],[1.9,0.35],[2.1,0.65],[1.65,1.0],[1.4,1.25],[1.05,1.25],[0.7,1.25],[0.4,1.1],[-0.05,0.85],[-0.4,1.05],[-0.7,0.85],[-1.05,1.0],[-1.3,1.35],[-1.0,1.3],[-0.6,1.45],[-0.15,1.5],[0.15,1.45],[-0.1,1.95],[-0.5,1.8],[-0.75,2.2],[-1.25,1.75],[-1.55,1.85],[0.5,1.85],[0.9,1.75],[1.3,2.0],[1.5,1.85],[0.65,2.15],[-0.35,2.5],[-1.3,2.35],[-1.7,-0.55],[-1.25,-0.6],[-0.75,-0.55],[-0.5,-0.85],[-0.2,-0.6],[0.1,-0.55],[0.4,-0.7],[0.75,-0.55],[1.05,-0.55],[1.35,-0.6],[1.45,-0.95],[1.0,-1.0],[0.6,-0.95],[0.25,-0.95],[-0.1,-0.95],[-0.45,-1.0],[-0.85,-1.0],[-1.1,-0.95],[-1.6,-1.0],[-2.0,-0.7],[-1.6,-1.45],[-1.15,-1.55],[-0.6,-1.35],[-0.2,-1.3],[0.15,-1.3],[0.55,-1.25],[0.8,-1.4],[1.1,-1.5],[1.55,-1.3],[1.8,-1.55],[-1.05,-1.7],[-0.35,-1.75],[0.45,-1.8],[0.95,-2.3],[1.15,-2.4],[1.45,-2.55],[-2.2,0.2],[-2.3,-0.5],[2.1,-0.35],[2.35,-0.55]];

// ---------- LAYOUT ----------
const BLUE = "#3b3bff";
const FONT = "Liberation Sans, Arial, sans-serif";
const fmt = d3.format("d");
const svg = d3.select("#chart");
const panels = [
  {pts:ptsA, env:envA, sp:spA, xt:xTicksA, yt:yTicksA, tt:topTicksA, rt:rightTicksA, l:97.7, r:350.7, t:55, b:279, x0:207.3, y0:137.3, u:25, bu:88.3, rx:350.7, topLine:[97.7,350.7], rightLine:[55,225.7], lab:[66,51]},
  {pts:ptsB, env:envB, sp:spB, xt:xTicksB, yt:yTicksB, tt:topTicksB, rt:rightTicksB, l:431, r:689, t:55, b:279, x0:537.7, y0:179, u:37.7, bu:101.3, rx:689, topLine:[431,638.7], rightLine:[55,279], lab:[399,51]},
  {pts:ptsC, env:envC, sp:spC, xt:xTicksC, yt:yTicksC, tt:topTicksC, rt:rightTicksC, l:771, r:1026.7, t:55, b:279, x0:874, y0:167, u:31.55, bu:106.8, rx:1029, topLine:[771,981], rightLine:[60.7,274.3], lab:[738,51]},
  {pts:ptsD, env:envD, sp:spD, xt:xTicksD, yt:yTicksD, tt:topTicksD, rt:rightTicksD, l:97, r:350, t:350.7, b:575, x0:210, y0:459, u:30.17, bu:114, rx:350, topLine:[97,325.7], rightLine:[350.7,573], lab:[68,346]},
  {pts:ptsE, env:envE, sp:spE, xt:xTicksE, yt:yTicksE, tt:topTicksE, rt:rightTicksE, l:431.7, r:688.3, t:351.7, b:574, x0:569.3, y0:465.3, u:29.7, bu:110.8, rx:688.3, topLine:[431.7,680], rightLine:[351.7,574], lab:[402,346]},
  {pts:ptsF, env:envF, sp:spF, xt:xTicksF, yt:yTicksF, tt:topTicksF, rt:rightTicksF, l:771, r:1026, t:351.7, b:574, x0:896.7, y0:462.7, u:27.15, bu:106, rx:1028.3, topLine:[790,1002.3], rightLine:[356.7,568.3], lab:[739,346]}
];

// titles
const colX = [214, 551.5, 894];
columnTitles.forEach((t,i)=>svg.append("text").attr("x",colX[i]).attr("y",28).attr("text-anchor","middle")
  .style("font-size","23px").attr("fill","#1a1a1a").text(t));
svg.append("text").attr("transform","translate(27,172) rotate(-90)").attr("text-anchor","middle")
  .style("font-size","24px").attr("fill","#1a1a1a").text("RDA");
const pr = svg.append("text").attr("transform","translate(28,467.5) rotate(-90)").attr("text-anchor","middle")
  .style("font-size","24px").attr("fill","#1a1a1a");
pr.append("tspan").style("font-style","italic").text("p");
pr.append("tspan").text("RDA");

panels.forEach((p,i)=>{
  const g = svg.append("g");
  const x = d3.scaleLinear().domain([(p.l-p.x0)/p.u,(p.r-p.x0)/p.u]).range([p.l,p.r]);
  const y = d3.scaleLinear().domain([(p.y0-p.b)/p.u,(p.y0-p.t)/p.u]).range([p.b,p.t]);
  const bx = d3.scaleLinear().domain([(p.l-p.x0)/p.bu,(p.r-p.x0)/p.bu]).range([p.l,p.r]);
  const by = d3.scaleLinear().domain([(p.y0-p.b)/p.bu,(p.y0-p.t)/p.bu]).range([p.b,p.t]);

  // dotted zero lines
  g.append("line").attr("x1",x(0)).attr("x2",x(0)).attr("y1",p.t).attr("y2",p.b)
    .attr("stroke","#555").attr("stroke-width",0.9).attr("stroke-dasharray","1,2.2");
  g.append("line").attr("y1",y(0)).attr("y2",y(0)).attr("x1",p.l).attr("x2",p.r)
    .attr("stroke","#555").attr("stroke-width",0.9).attr("stroke-dasharray","1,2.2");

  // site points
  g.append("g").selectAll("circle").data(p.pts).join("circle")
    .attr("cx",d=>x(d[0])).attr("cy",d=>y(d[1])).attr("r",2.3)
    .attr("fill","rgba(110,110,110,0.35)").attr("stroke","#141414").attr("stroke-width",1).attr("stroke-opacity",0.9);

  // species (red crosses)
  const sg = g.append("g").attr("stroke","#ff1a1a").attr("stroke-width",1.8);
  p.sp.forEach(d=>{
    const cx=x(d[0]), cy=y(d[1]);
    sg.append("path").attr("d",`M${cx-3.5},${cy}H${cx+3.5}M${cx},${cy-3.5}V${cy+3.5}`);
  });

  // arrows
  const ox=bx(0), oy=by(0);
  p.env.forEach(e=>{
    const tx=bx(e.x), ty=by(e.y);
    g.append("line").attr("x1",ox).attr("y1",oy).attr("x2",tx).attr("y2",ty)
      .attr("stroke",BLUE).attr("stroke-width",1.3);
    const a=Math.atan2(ty-oy,tx-ox), L=4.5, W=2.2;
    const bxp=tx-L*Math.cos(a), byp=ty-L*Math.sin(a);
    g.append("path").attr("d",`M${tx},${ty}L${bxp-W*Math.sin(a)},${byp+W*Math.cos(a)}L${bxp+W*Math.sin(a)},${byp-W*Math.cos(a)}Z`)
      .attr("fill",BLUE);
    g.append("text").attr("x",bx(e.x*1.15)).attr("y",by(e.y*1.15)).attr("dy","0.35em")
      .attr("text-anchor","middle").style("font-size","9px").attr("fill","#4a4aff").text(e.name);
  });

  // box
  g.append("rect").attr("x",p.l).attr("y",p.t).attr("width",p.r-p.l).attr("height",p.b-p.t)
    .attr("fill","none").attr("stroke","#333").attr("stroke-width",1.2);

  // bottom axis
  const ax = g.append("g").attr("transform",`translate(0,${p.b})`)
    .call(d3.axisBottom(x).tickValues(p.xt).tickFormat(fmt).tickSize(4).tickPadding(10).tickSizeOuter(0));
  ax.select(".domain").remove();
  ax.selectAll("line").attr("stroke","#333");
  ax.selectAll("text").style("font-size","8.5px").attr("fill","#333").style("font-family",FONT);

  // left axis
  const ay = g.append("g").attr("transform",`translate(${p.l},0)`)
    .call(d3.axisLeft(y).tickValues(p.yt).tickFormat(fmt).tickSize(4).tickSizeOuter(0));
  ay.select(".domain").remove();
  ay.selectAll("line").attr("stroke","#333");
  ay.selectAll("text").attr("transform","rotate(-90)").attr("x",0).attr("y",-16).attr("dy",0)
    .attr("text-anchor","middle").style("font-size","8.5px").attr("fill","#333").style("font-family",FONT);

  // top blue axis (biplot scale)
  g.append("line").attr("x1",p.topLine[0]).attr("x2",p.topLine[1]).attr("y1",p.t).attr("y2",p.t)
    .attr("stroke",BLUE).attr("stroke-width",1.3);
  const at = g.append("g").attr("transform",`translate(0,${p.t})`)
    .call(d3.axisTop(bx).tickValues(p.tt).tickSize(4).tickFormat(""));
  at.select(".domain").remove();
  at.selectAll("line").attr("stroke",BLUE).attr("stroke-width",1.2);

  // right blue axis
  g.append("line").attr("x1",p.rx).attr("x2",p.rx).attr("y1",p.rightLine[0]).attr("y2",p.rightLine[1])
    .attr("stroke",BLUE).attr("stroke-width",1.3);
  const ar = g.append("g").attr("transform",`translate(${p.rx},0)`)
    .call(d3.axisRight(by).tickValues(p.rt).tickFormat(fmt).tickSize(4));
  ar.select(".domain").remove();
  ar.selectAll("line").attr("stroke",BLUE).attr("stroke-width",1.2);
  ar.selectAll("text").attr("transform","rotate(-90)").attr("x",0).attr("y",20).attr("dy",0)
    .attr("text-anchor","middle").style("font-size","8.5px").attr("fill","#333").style("font-family",FONT);

  // axis titles
  g.append("text").attr("x",(p.l+p.r)/2-7).attr("y",p.b+36).attr("text-anchor","middle")
    .style("font-size","9px").attr("fill","#333").text(xTitles[i]);
  g.append("text").attr("transform",`translate(${p.l-31},${(p.t+p.b)/2+3}) rotate(-90)`).attr("text-anchor","middle")
    .style("font-size","9px").attr("fill","#333").text(yTitles[i]);

  // panel letter
  g.append("text").attr("x",p.lab[0]).attr("y",p.lab[1]).attr("text-anchor","middle")
    .style("font-size","14px").attr("fill","#222").text(panelLetters[i]);
});
</script>
</body></html>
